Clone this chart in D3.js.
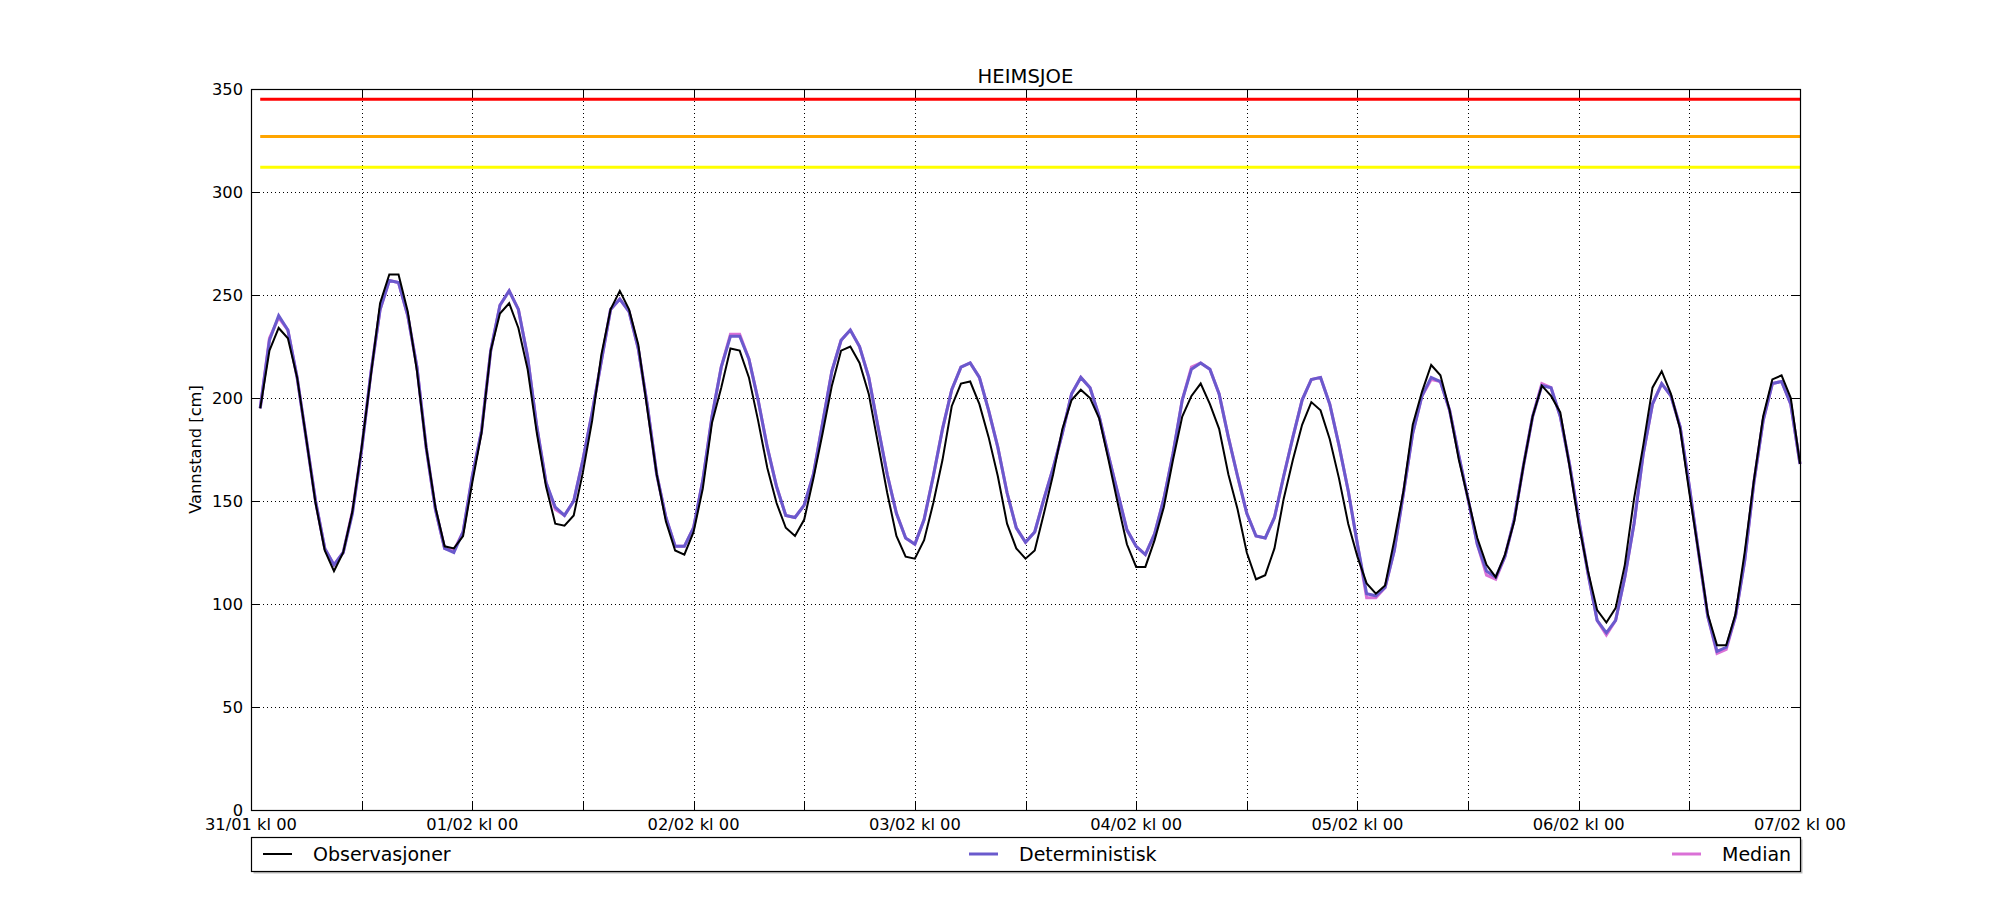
<!DOCTYPE html>
<html>
<head>
<meta charset="utf-8">
<script src="https://cdn.jsdelivr.net/npm/d3@7"></script>
<style>
  html, body { margin: 0; padding: 0; background: #fff; }
  svg { display: block; font-family: "DejaVu Sans", sans-serif; }
</style>
</head>
<body>
<svg id="chart" width="2000" height="900"></svg>
<script>
// ---- data (hour offsets from 31/01 kl 00) ----
const hours = d3.range(1, 169);
const observasjoner = [
  195,223,234,229,210,180,149,126,116,125,145,176,211,246,260,260,242,213,176,147,128,127,133,159,
  183,223,241,246,234,214,183,157,139,138,143,164,189,221,243,252,243,226,194,163,140,126,124,135,
  156,188,205,224,223,210,189,166,149,137,133,141,161,183,206,223,225,217,202,178,154,133,123,122,
  131,149,170,196,207,208,197,181,162,139,127,122,126,144,163,185,199,204,200,190,170,149,129,118,
  118,131,147,170,191,201,207,197,185,163,146,125,112,114,127,151,170,187,198,194,180,161,139,123,
  110,105,109,131,155,187,203,216,211,194,170,151,132,119,113,124,140,167,191,206,201,193,167,139,
  116,97,91,98,119,151,177,205,213,202,185,154,125,95,80,80,95,125,160,191,209,211,200,168
];
const deterministisk = [
  195,228,240,233,210,180,150,127,119,125,144,175,212,243,257,256,240,215,176,146,127,125,135,162,
  184,223,245,252,243,220,186,159,147,143,150,170,193,218,243,248,242,224,196,163,142,128,128,137,
  160,191,215,230,230,219,199,176,157,143,142,148,163,188,213,228,233,225,210,186,163,144,132,129,
  141,162,185,204,215,217,210,194,176,154,137,130,135,151,166,183,202,210,205,191,172,154,136,128,
  124,134,151,173,199,214,217,214,202,181,162,144,133,132,142,162,181,199,209,210,197,177,155,129,
  105,104,108,126,154,183,201,210,208,194,172,151,129,116,113,123,141,167,191,206,205,191,168,141,
  115,92,86,92,113,139,173,197,207,201,186,157,125,94,77,79,94,121,159,189,207,208,197,168
];
const median = [
  195,229,239,233,210,180,150,127,119,125,145,175,212,243,257,256,240,215,176,146,127,126,135,162,
  184,223,245,252,243,220,186,159,146,143,150,170,193,218,243,248,242,224,196,163,142,128,128,137,
  160,191,215,231,231,219,199,176,157,143,142,148,163,188,213,228,233,225,210,186,163,144,132,129,
  141,162,185,204,215,217,210,194,176,154,137,130,135,151,166,183,202,210,205,191,172,154,136,128,
  124,134,151,173,199,215,217,214,202,181,162,144,133,132,142,162,181,199,209,210,197,177,155,129,
  103,103,108,126,154,183,201,209,208,194,172,151,129,114,112,123,141,167,191,207,205,191,168,141,
  115,92,85,92,113,139,173,197,207,201,186,157,125,94,76,78,94,121,159,189,207,208,197,168
];
const thresholdValues = [345, 327, 312];
const thresholdColors = ["#ff0000", "#ffa500", "#ffff00"];
const xTickHours = d3.range(0, 169, 12);
const xTickLabels = ["31/01 kl 00","01/02 kl 00","02/02 kl 00","03/02 kl 00","04/02 kl 00","05/02 kl 00","06/02 kl 00","07/02 kl 00"];
const yTicks = [0, 50, 100, 150, 200, 250, 300, 350];
const seriesNames = ["Observasjoner", "Deterministisk", "Median"];

// ---- layout ----
const svg = d3.select("#chart");
const L = 251, R = 1800, T = 89, B = 810;
const x = d3.scaleLinear().domain([0, 168]).range([L, R]);
const y = d3.scaleLinear().domain([0, 350]).range([B, T]);
const tickFont = 16.3;

svg.append("rect").attr("width", 2000).attr("height", 900).attr("fill", "#fff");

// grid
const grid = svg.append("g").attr("stroke", "#000").attr("stroke-width", 1)
  .attr("stroke-dasharray", "1,3").attr("shape-rendering", "crispEdges");
xTickHours.slice(1, -1).forEach(h => {
  grid.append("line").attr("x1", Math.round(x(h)) + 0.5).attr("x2", Math.round(x(h)) + 0.5)
    .attr("y1", T).attr("y2", B);
});
yTicks.slice(1, -1).forEach(v => {
  grid.append("line").attr("y1", Math.round(y(v)) + 0.5).attr("y2", Math.round(y(v)) + 0.5)
    .attr("x1", L).attr("x2", R);
});

// thresholds
const tg = svg.append("g");
thresholdValues.forEach((v, i) => {
  tg.append("line").attr("x1", x(1)).attr("x2", x(168)).attr("y1", y(v)).attr("y2", y(v))
    .attr("stroke", thresholdColors[i]).attr("stroke-width", 3);
});

// series
const line = arr => d3.line().x((d, i) => x(hours[i])).y(d => y(d))(arr);
svg.append("path").attr("d", line(median)).attr("fill", "none")
  .attr("stroke", "#da70d6").attr("stroke-width", 3).attr("stroke-linejoin", "miter");
svg.append("path").attr("d", line(deterministisk)).attr("fill", "none")
  .attr("stroke", "#6a5acd").attr("stroke-width", 3).attr("stroke-linejoin", "miter");
svg.append("path").attr("d", line(observasjoner)).attr("fill", "none")
  .attr("stroke", "#000").attr("stroke-width", 2).attr("stroke-linejoin", "miter");

// axes frame + ticks (inward, all sides)
const ax = svg.append("g").attr("stroke", "#000").attr("stroke-width", 1).attr("shape-rendering", "crispEdges");
xTickHours.forEach(h => {
  const px = Math.round(x(h)) + 0.5;
  ax.append("line").attr("x1", px).attr("x2", px).attr("y1", B).attr("y2", B - 8);
  ax.append("line").attr("x1", px).attr("x2", px).attr("y1", T).attr("y2", T + 8);
});
yTicks.forEach(v => {
  const py = Math.round(y(v)) + 0.5;
  ax.append("line").attr("x1", L).attr("x2", L + 8).attr("y1", py).attr("y2", py);
  ax.append("line").attr("x1", R).attr("x2", R - 8).attr("y1", py).attr("y2", py);
});
svg.append("rect").attr("x", L + 0.5).attr("y", T + 0.5).attr("width", R - L).attr("height", B - T)
  .attr("fill", "none").attr("stroke", "#000").attr("stroke-width", 1.2);

// tick labels
const labels = svg.append("g").attr("font-size", tickFont).attr("fill", "#000");
xTickHours.filter(h => h % 24 === 0).forEach((h, i) => {
  labels.append("text").attr("x", x(h)).attr("y", 830).attr("text-anchor", "middle").text(xTickLabels[i]);
});
yTicks.forEach(v => {
  labels.append("text").attr("x", 243).attr("y", y(v)).attr("dy", "0.36em")
    .attr("text-anchor", "end").text(v);
});

// title and y label
svg.append("text").attr("x", (L + R) / 2).attr("y", 83).attr("text-anchor", "middle")
  .attr("font-size", 19.6).text("HEIMSJOE");
svg.append("text").attr("transform", `translate(201,${(T + B) / 2}) rotate(-90)`)
  .attr("text-anchor", "middle").attr("font-size", tickFont).text("Vannstand [cm]");

// legend
const lg = svg.append("g");
lg.append("rect").attr("x", L + 2.5).attr("y", 839.5).attr("width", R - L).attr("height", 34)
  .attr("fill", "#bbb").attr("stroke", "none");
lg.append("rect").attr("x", L + 0.5).attr("y", 837.5).attr("width", R - L).attr("height", 34)
  .attr("fill", "#fff").attr("stroke", "#000").attr("stroke-width", 1.2);
const legColors = ["#000", "#6a5acd", "#da70d6"];
const legWidths = [2, 3, 3];
const handleX = [263, 969, 1672];
seriesNames.forEach((n, i) => {
  lg.append("line").attr("x1", handleX[i]).attr("x2", handleX[i] + 29).attr("y1", 854).attr("y2", 854)
    .attr("stroke", legColors[i]).attr("stroke-width", legWidths[i]);
  lg.append("text").attr("x", handleX[i] + 50).attr("y", 854).attr("dy", "0.36em")
    .attr("font-size", 19).text(n);
});
</script>
</body>
</html>
